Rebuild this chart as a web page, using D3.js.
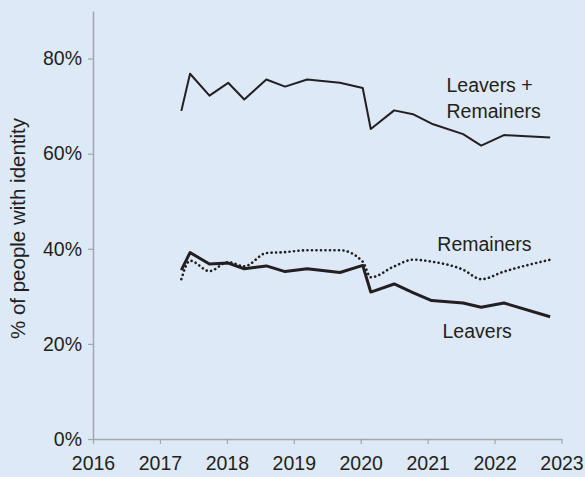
<!DOCTYPE html>
<html>
<head>
<meta charset="utf-8">
<script src="https://cdn.jsdelivr.net/npm/d3@7"></script>
<style>
  html, body { margin: 0; padding: 0; background: #dde9f6; }
  svg { display: block; }
  text { font-family: "Liberation Sans", Arial, sans-serif; fill: #231f20; }
</style>
</head>
<body>
<svg id="chart" width="585" height="477"></svg>
<script>
// Survey dates (decimal years)
const dates = [2017.32, 2017.45, 2017.74, 2018.02, 2018.26, 2018.59, 2018.87, 2019.20, 2019.69,
               2020.03, 2020.15, 2020.50, 2020.78, 2021.06, 2021.53, 2021.80, 2022.14, 2022.83];
// % of people with identity
const leaversRemainers = [69.0, 76.8, 72.2, 74.9, 71.4, 75.6, 74.1, 75.6, 74.9,
                          73.8, 65.2, 69.1, 68.3, 66.3, 64.1, 61.7, 63.9, 63.4];
const remainers = [33.6, 37.5, 35.3, 37.2, 36.3, 39.1, 39.3, 39.7, 39.7,
                   37.3, 34.0, 36.3, 37.7, 37.3, 35.6, 33.6, 35.2, 37.7];
const leavers = [35.5, 39.2, 36.8, 37.0, 35.8, 36.4, 35.2, 35.8, 35.0,
                 36.5, 30.9, 32.6, 30.8, 29.1, 28.6, 27.7, 28.6, 25.7];
const xTicks = [2016, 2017, 2018, 2019, 2020, 2021, 2022, 2023];
const yTicks = [0, 20, 40, 60, 80];
const yTitle = "% of people with identity";

const svg = d3.select("#chart");
const x = d3.scaleLinear().domain([2016, 2023]).range([93, 561.5]);
const y = d3.scaleLinear().domain([0, 90]).range([439, 11]);

// axes
const gx = svg.append("g").attr("transform", "translate(0,439)")
  .call(d3.axisBottom(x).tickValues(xTicks).tickFormat(d3.format("d")).tickSize(5).tickSizeOuter(0).tickPadding(12));
const gy = svg.append("g").attr("transform", "translate(93,0)")
  .call(d3.axisLeft(y).tickValues(yTicks).tickFormat(d => d + "%").tickSize(5).tickSizeOuter(0).tickPadding(6));
[gx, gy].forEach(g => {
  g.select(".domain").attr("stroke", "#a3a6aa").attr("stroke-width", 1.5);
  g.selectAll(".tick line").attr("stroke", "#a3a6aa").attr("stroke-width", 1.2);
  g.selectAll(".tick text").attr("fill", "#231f20").style("font-size", "19.5px")
    .style("font-family", "'Liberation Sans', Arial, sans-serif");
});

// y title
svg.append("text")
  .attr("transform", "translate(25,228.5) rotate(-90)")
  .attr("text-anchor", "middle")
  .style("font-size", "20.5px")
  .text(yTitle);

const line = vals => d3.line().x((d, i) => x(dates[i])).y(d => y(d))(vals);

svg.append("path").attr("d", line(leaversRemainers))
  .attr("fill", "none").attr("stroke", "#231f20").attr("stroke-width", 2)
  .attr("stroke-linejoin", "round");
svg.append("path")
  .attr("d", d3.line().x((d, i) => x(dates[i])).y(d => y(d)).curve(d3.curveMonotoneX)(remainers))
  .attr("fill", "none").attr("stroke", "#231f20").attr("stroke-width", 2.6)
  .attr("stroke-linecap", "round").attr("stroke-dasharray", "0.1,4.4");
svg.append("path").attr("d", line(leavers))
  .attr("fill", "none").attr("stroke", "#231f20").attr("stroke-width", 3)
  .attr("stroke-linejoin", "round");

// series labels
const lab = svg.append("g").style("font-size", "19.5px");
lab.append("text").attr("x", 446.5).attr("y", 92.3).text("Leavers +");
lab.append("text").attr("x", 446.5).attr("y", 118.3).text("Remainers");
lab.append("text").attr("x", 437.3).attr("y", 250.7).text("Remainers");
lab.append("text").attr("x", 442.5).attr("y", 338).text("Leavers");
</script>
</body>
</html>
